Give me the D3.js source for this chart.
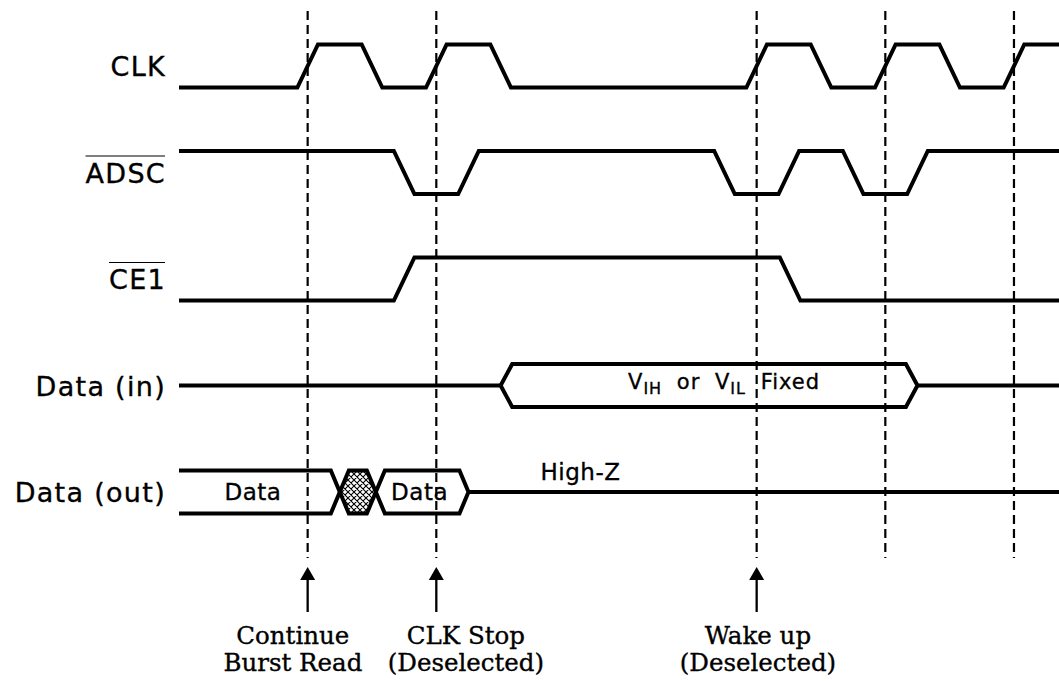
<!DOCTYPE html>
<html><head><meta charset="utf-8">
<script src="https://cdn.jsdelivr.net/npm/d3@7"></script>
<style>html,body{margin:0;padding:0;background:#fff;}</style>
</head><body><svg id="chart" width="1059" height="681"></svg>
<script>
// ---------------- data (times in ns, clock period 10 ns) ----------------
const signalNames = ["CLK", "ADSC", "CE1", "Data (in)", "Data (out)"];
const overlined = ["ADSC", "CE1"];
const clkStartLevel = 0;
const clkEdges = [10, 15, 20, 25, 44.9, 49.9, 54.9, 59.9, 64.9];
const adscStartLevel = 1;
const adscEdges = [17.5, 22.5, 42.4, 47.4, 52.4, 57.4];
const ce1StartLevel = 0;
const ce1Edges = [17.5, 47.5];
const dataInBus = [{from: 25.0, to: 57.4}];
const dataInLabel = {at: 34.9, parts: [["V",""],["IH","sub"],[" or V",""],["IL","sub"],[" Fixed",""]]};
const dataOutSegments = [
  {kind: "valid",   from: 0,    to: 12.5, label: "Data", labelAt: 5.75, open: true},
  {kind: "invalid", from: 12.5, to: 15.3},
  {kind: "valid",   from: 15.3, to: 22.5, label: "Data", labelAt: 18.7},
  {kind: "highz",   from: 22.5, to: 68.4}
];
const highZLabel = {at: 28.1, text: "High-Z"};
const markerTimes = [10, 20, 44.9, 54.9, 64.9];
const events = [
  {at: 10,   labelAt: 8.85, lines: ["Continue", "Burst Read"]},
  {at: 20,   labelAt: 22.3, lines: ["CLK Stop", "(Deselected)"]},
  {at: 44.9, labelAt: 45.0, lines: ["Wake up", "(Deselected)"]}
];
const timeEnd = 68.4;

// ---------------- layout ----------------
const svg = d3.select("#chart");
const x = d3.scaleLinear().domain([0, timeEnd]).range([179, 1059]);
const lane = d3.scalePoint().domain(signalNames).range([66, 492]);
const amp = 21.5;
const edgeW = 1.6, busWOut = 0.7, busWIn = 0.9;
const sw = 4;
const sans = "DejaVu Sans, Verdana, sans-serif";
const serif = "DejaVu Serif, serif";
const heavy = sel => sel.attr("stroke","#000").attr("stroke-width",0.35);

const defs = svg.append("defs");
const pat = defs.append("pattern").attr("id","hatch").attr("patternUnits","userSpaceOnUse")
  .attr("width",6).attr("height",6);
pat.append("rect").attr("width",6).attr("height",6).attr("fill","#fff");
pat.append("path").attr("d","M0,0 L6,6 M6,0 L0,6 M-1,5 L1,7 M5,-1 L7,1 M-1,1 L1,-1 M5,7 L7,5")
  .attr("stroke","#000").attr("stroke-width",1.1);

const line = d3.line().x(d => x(d[0])).y(d => d[1]);
const levelY = (name, lvl) => lane(name) + (lvl ? -amp : amp);

function digital(name, startLevel, edges) {
  let lvl = startLevel;
  const pts = [[0, levelY(name, lvl)]];
  edges.forEach(c => {
    pts.push([c - edgeW/2, levelY(name, lvl)]);
    lvl = 1 - lvl;
    pts.push([c + edgeW/2, levelY(name, lvl)]);
  });
  pts.push([timeEnd, levelY(name, lvl)]);
  return pts;
}
function hexagon(name, a, b, w) {
  const m = lane(name), t = m - amp, bo = m + amp;
  return [[a, m],[a + w, t],[b - w, t],[b, m],[b - w, bo],[a + w, bo],[a, m]];
}

const g = svg.append("g");
const strokeStyle = sel => sel.attr("fill","none").attr("stroke","#000").attr("stroke-width",sw)
  .attr("stroke-linejoin","miter").attr("stroke-miterlimit",10);

// digital signals
[["CLK", clkStartLevel, clkEdges], ["ADSC", adscStartLevel, adscEdges], ["CE1", ce1StartLevel, ce1Edges]]
  .forEach(([n, s, e]) => g.append("path").attr("d", line(digital(n, s, e))).call(strokeStyle));

// Data (in)
{
  const n = "Data (in)", m = lane(n);
  const b = dataInBus[0];
  g.append("path").attr("d", line([[0, m],[b.from, m]])).call(strokeStyle);
  g.append("path").attr("d", line(hexagon(n, b.from, b.to, busWIn))).call(strokeStyle).attr("fill","#fff");
  g.append("path").attr("d", line([[b.to, m],[timeEnd, m]])).call(strokeStyle);
  const t = g.append("text").attr("x", x(dataInLabel.at)).attr("y", m + 3)
    .attr("font-family", sans).attr("font-size", 21).attr("letter-spacing", 1)
    .attr("word-spacing", 7).style("white-space","pre").call(heavy);
  let shift = 0;
  dataInLabel.parts.forEach(([txt, kind]) => {
    const dy = kind === "sub" ? 5 - shift : -shift;
    shift = kind === "sub" ? 5 : 0;
    t.append("tspan").attr("dy", dy).attr("font-size", kind === "sub" ? 16 : 21).text(txt);
  });
}

// Data (out)
{
  const n = "Data (out)", m = lane(n);
  dataOutSegments.forEach(s => {
    if (s.kind === "highz") {
      g.append("path").attr("d", line([[s.from, m],[s.to, m]])).call(strokeStyle);
    } else if (s.open) {
      g.append("path").attr("d", line([[s.from, m - amp],[s.to - busWOut, m - amp],[s.to, m]])).call(strokeStyle);
      g.append("path").attr("d", line([[s.from, m + amp],[s.to - busWOut, m + amp],[s.to, m]])).call(strokeStyle);
    } else {
      g.append("path").attr("d", line(hexagon(n, s.from, s.to, busWOut))).call(strokeStyle)
        .attr("fill", s.kind === "invalid" ? "url(#hatch)" : "#fff");
    }
    if (s.label) {
      g.append("text").attr("x", x(s.labelAt)).attr("y", m + 8)
        .attr("text-anchor","middle").attr("font-family", sans).attr("font-size", 23)
        .attr("letter-spacing", 0.5).call(heavy).text(s.label);
    }
  });
  g.append("text").attr("x", x(highZLabel.at)).attr("y", m - 12)
    .attr("font-family", sans).attr("font-size", 23).attr("letter-spacing", 0.5).call(heavy).text(highZLabel.text);
}

// marker dashed lines
svg.append("g").selectAll("line").data(markerTimes).join("line")
  .attr("x1", d => x(d)).attr("x2", d => x(d)).attr("y1", 11).attr("y2", 558)
  .attr("stroke","#000").attr("stroke-width",2.2).attr("stroke-dasharray","9,5");

// signal labels
const lg = svg.append("g");
signalNames.forEach(n => {
  const t = lg.append("text").attr("x", 166).attr("y", lane(n) + 10)
    .attr("text-anchor","end").attr("font-family", sans).attr("font-size", 27)
    .attr("letter-spacing", 1.3).call(heavy).text(n);
  if (overlined.includes(n)) {
    const bb = t.node().getBBox();
    lg.append("line").attr("x1", bb.x).attr("x2", bb.x + bb.width - 1).attr("y1", lane(n) - 16.5).attr("y2", lane(n) - 16.5)
      .attr("stroke","#000").attr("stroke-width",1.2);
  }
});

// event arrows + captions
const eg = svg.append("g");
events.forEach(e => {
  const ax = x(e.at);
  eg.append("line").attr("x1", ax).attr("x2", ax).attr("y1", 578).attr("y2", 612)
    .attr("stroke","#000").attr("stroke-width",2.3);
  eg.append("path").attr("d", `M${ax},567 L${ax-7.5},580 L${ax+7.5},580 Z`).attr("fill","#000");
  e.lines.forEach((l, i) => {
    eg.append("text").attr("x", x(e.labelAt)).attr("y", 644 + i * 27)
      .attr("text-anchor","middle").attr("font-family", serif).attr("font-size", 24.5)
      .call(heavy).text(l);
  });
});
</script></body></html>
